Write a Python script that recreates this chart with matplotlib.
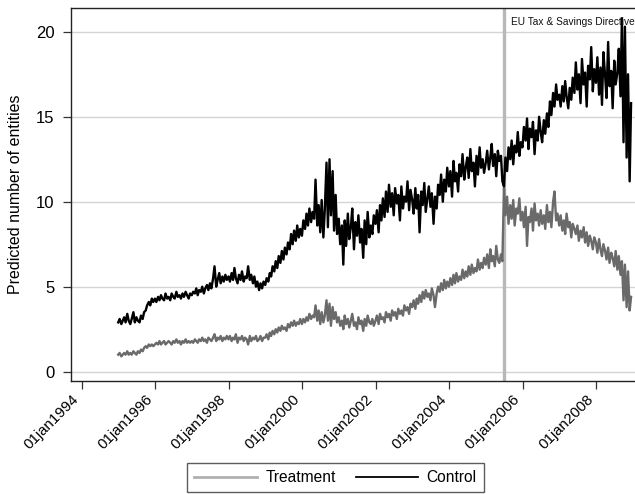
import numpy as np
import pandas as pd
import matplotlib
matplotlib.use("Agg")
import matplotlib.pyplot as plt
import matplotlib.dates as mdates
from matplotlib.lines import Line2D

plt.rcParams['font.family'] = ['Liberation Sans', 'DejaVu Sans']

# semi-monthly observations, Jan 1995 - Dec 2008 (24 per year)
control = [
    # 1995
    2.9, 3.1, 2.8, 3.0, 3.2, 2.9, 3.4, 3.0, 2.8, 3.1, 3.5, 2.9, 3.2, 3.0, 2.9, 3.3, 3.1, 3.5, 3.6, 3.9, 4.1, 3.9, 4.3, 4.1,
    # 1996
    4.3, 4.1, 4.4, 4.2, 4.5, 4.3, 4.2, 4.6, 4.3, 4.4, 4.2, 4.6, 4.4, 4.3, 4.7, 4.4, 4.5, 4.3, 4.6, 4.4, 4.7, 4.5, 4.3, 4.6,
    # 1997
    4.5, 4.7, 4.6, 4.9, 4.5, 4.8, 4.7, 5.0, 4.6, 4.9, 5.1, 4.8, 5.2, 4.9, 5.5, 6.2, 5.0, 5.4, 5.8, 5.2, 5.6, 5.3, 5.7, 5.4,
    # 1998
    5.6, 5.3, 5.8, 5.4, 6.1, 5.5, 5.2, 5.7, 5.4, 5.9, 5.3, 5.6, 5.5, 6.2, 5.4, 5.7, 5.2, 5.6, 5.0, 5.3, 4.8, 5.2, 4.9, 5.3,
    # 1999
    5.1, 5.5, 5.3, 5.8, 5.6, 6.2, 5.9, 6.5, 6.1, 6.8, 6.4, 7.1, 6.6, 7.3, 6.9, 7.6, 7.2, 8.1, 7.5, 8.3, 7.7, 8.6, 7.9, 8.4,
    # 2000
    8.0, 8.9, 8.4, 9.3, 8.6, 9.6, 8.8, 9.4, 9.0, 11.3, 8.6, 9.8, 8.2, 10.1, 7.9, 9.5, 12.3, 8.5, 12.5, 9.2, 11.8, 8.3, 10.4, 8.1,
    # 2001
    9.0, 7.5, 8.6, 6.3, 8.9, 7.4, 9.3, 7.8, 8.5, 9.6, 7.2, 8.8, 8.0, 9.2, 7.6, 8.4, 6.7, 8.9, 7.5, 9.4, 7.9, 8.6, 8.1, 9.2,
    # 2002
    8.7, 9.5, 8.2, 9.8, 8.9, 10.2, 9.1, 10.6, 9.4, 11.0, 9.7, 10.5, 9.2, 10.8, 9.9, 10.4, 8.9, 10.9, 9.6, 10.3, 10.0, 11.2, 9.5, 10.7,
    # 2003
    10.1, 9.3, 10.8, 9.6, 10.4, 8.2, 10.6, 9.8, 11.1, 9.4, 10.2, 10.9, 9.7, 10.5, 8.7, 10.3, 9.6, 11.0, 10.4, 11.6, 10.0, 11.3, 10.6, 12.0,
    # 2004
    10.9, 11.8, 10.3, 12.4, 11.2, 11.7, 10.6, 12.2, 11.5, 12.8, 11.3, 12.0, 12.6, 11.4, 13.1, 11.8, 12.3, 10.9, 12.7, 11.6, 13.2, 12.0, 12.5, 11.7,
    # 2005
    12.3, 13.0, 11.9, 12.6, 13.4, 12.1, 12.8, 11.5, 13.0, 12.4, 12.7, 11.2, 10.9, 12.6, 11.8, 13.2, 12.5, 13.6, 12.2, 13.3, 12.9, 14.1, 12.7, 13.5,
    # 2006
    13.2, 14.4, 13.6, 14.9, 13.1, 14.3, 13.8, 14.7, 12.8, 14.2, 13.6, 15.0, 14.1, 13.5, 14.8, 14.0, 15.2, 14.4, 15.9, 15.1, 16.4, 15.6, 16.9, 16.0,
    # 2007
    16.3, 15.6, 16.8, 15.9, 17.1, 16.2, 15.5, 16.7, 16.0, 17.3, 16.4, 18.2, 16.6, 17.5, 15.8, 18.4, 16.9, 17.6, 15.6, 18.0, 17.2, 19.1, 16.5, 17.8,
    # 2008
    17.0, 18.5, 16.3, 17.9, 15.7, 18.8, 17.4, 16.1, 19.4, 16.8, 17.7, 15.5, 18.3, 16.9, 17.6, 19.0, 16.2, 20.8, 13.5, 20.3, 12.6, 17.5, 11.2, 15.8,
]

treatment = [
    # 1995
    1.0, 1.1, 0.9, 1.0, 1.1, 1.0, 1.2, 1.0, 1.1, 1.0, 1.2, 1.1, 1.0, 1.2, 1.1, 1.3, 1.2, 1.4, 1.5, 1.4, 1.6, 1.5, 1.6, 1.5,
    # 1996
    1.6, 1.7, 1.6, 1.8, 1.6, 1.7, 1.8, 1.6, 1.7, 1.8, 1.7, 1.6, 1.8, 1.7, 1.9, 1.7, 1.8, 1.6, 1.8, 1.7, 1.9, 1.7, 1.8, 1.7,
    # 1997
    1.8, 1.7, 1.9, 1.8, 1.7, 1.9, 1.8, 2.0, 1.8, 1.9, 1.7, 2.0, 1.9, 1.8, 2.0, 2.2, 1.8, 2.0, 1.9, 2.1, 1.8, 2.0, 1.9, 2.1,
    # 1998
    1.9, 2.1, 1.8, 2.0, 1.9, 2.2, 1.7, 2.0, 1.9, 2.1, 1.8, 2.0, 1.9, 1.6, 2.1, 1.8, 2.0, 1.9, 2.1, 1.8, 1.9, 2.1, 1.8, 2.0,
    # 1999
    2.0, 2.2, 1.9, 2.3, 2.1, 2.4, 2.2, 2.5, 2.3, 2.6, 2.4, 2.7, 2.5, 2.6, 2.4, 2.8, 2.6, 2.9, 2.7, 3.0, 2.7, 2.9, 2.8, 3.1,
    # 2000
    2.8, 3.1, 2.9, 3.2, 3.0, 3.4, 3.1, 3.3, 3.2, 3.9, 3.0, 3.6, 2.8, 3.5, 2.9, 3.3, 4.2, 3.0, 4.0, 2.7, 3.8, 3.1, 3.5, 2.9,
    # 2001
    3.2, 2.7, 3.0, 2.5, 3.3, 2.8, 3.1, 2.6, 3.0, 3.4, 2.7, 2.9, 2.5, 3.2, 2.8, 3.0, 2.4, 3.1, 2.7, 3.3, 2.9, 2.8, 3.1, 2.7,
    # 2002
    3.0, 3.3, 2.8, 3.4, 3.1, 3.2, 2.9, 3.5, 3.2, 3.4, 3.0, 3.6, 3.3, 3.5, 3.1, 3.7, 3.4, 3.6, 3.3, 3.9, 3.6, 3.8, 3.4, 4.0,
    # 2003
    3.8, 4.2, 3.7, 4.3, 4.0, 4.5, 4.1, 4.7, 4.3, 4.8, 4.4, 4.6, 4.2, 4.9, 4.5, 3.8, 4.6, 5.0, 4.7, 5.2, 4.8, 5.4, 4.9, 5.3,
    # 2004
    5.0, 5.5, 5.1, 5.7, 5.2, 5.8, 5.3, 5.6, 5.4, 6.0, 5.5, 5.9, 5.6, 6.2, 5.7, 6.3, 5.8, 6.1, 5.9, 6.6, 6.0, 6.4, 6.1, 6.7,
    # 2005
    6.3, 6.9, 6.1, 7.2, 6.5, 6.8, 6.2, 7.4, 6.6, 6.4, 6.9, 6.5, 10.8, 9.2, 10.3, 8.7, 9.8, 9.0, 10.1, 8.6, 9.6, 9.3, 10.2, 8.9,
    # 2006
    9.4, 8.5, 9.7, 7.4, 9.1, 8.8, 9.6, 8.3, 9.9, 8.9, 9.3, 8.6, 9.5, 8.7, 9.2, 8.4, 9.8, 8.8, 9.4, 8.5, 10.0, 10.6, 8.9, 9.3,
    # 2007
    8.6, 9.2, 8.3, 8.9, 8.1, 9.3, 8.5, 8.8, 7.9, 8.7, 8.4, 8.1, 8.6, 7.7, 8.3, 7.9, 8.5, 7.6, 8.2, 7.4, 8.0, 7.7, 7.2, 7.9,
    # 2008
    7.6, 7.0, 7.8, 7.2, 6.8, 7.5, 7.1, 6.6, 7.3, 6.4, 7.0, 6.7, 6.2, 7.1, 6.0, 6.8, 5.7, 6.5, 4.2, 6.3, 3.8, 5.9, 3.6, 4.4,
]

tick_dates = ["1994-01-01", "1996-01-01", "1998-01-01", "2000-01-01",
              "2002-01-01", "2004-01-01", "2006-01-01", "2008-01-01"]
tick_labels = ["01jan1994", "01jan1996", "01jan1998", "01jan2000",
               "01jan2002", "01jan2004", "01jan2006", "01jan2008"]
y_ticks = [0, 5, 10, 15, 20]
event_date = "2005-07-01"
event_label = "EU Tax & Savings Directive"

dates_c = pd.date_range("1995-01-01", periods=len(control), freq="SMS")
dates_t = pd.date_range("1995-01-01", periods=len(treatment), freq="SMS")

fig = plt.figure(figsize=(6.35, 4.94), dpi=100)
W, H = 635, 494
ax = fig.add_axes([71 / W, 1 - 381 / H, (652 - 71) / W, (381 - 8) / H])

# x scale: 36.75 px per year, 01jan1994 at px 81.5
base = mdates.date2num(pd.Timestamp("1994-01-01"))
px_per_day = 36.75 / 365.25
ax.set_xlim(base - (81.5 - 71) / px_per_day, base + (652 - 81.5) / px_per_day)
ax.set_ylim(-0.55, 21.4)

for y in y_ticks:
    ax.axhline(y, color="#d4d4d4", lw=1.0, zorder=0)

ax.axvline(pd.Timestamp(event_date), color="#b8b8b8", lw=2.4, zorder=1)

ax.plot(dates_t, treatment, color="#6a6a6a", lw=1.7, zorder=2)
ax.plot(dates_c, control, color="black", lw=1.7, zorder=3)

ax.text(pd.Timestamp("2005-09-10"), 20.55, event_label, fontsize=7.3,
        va="center", ha="left", color="#111111", clip_on=False)

ax.set_yticks(y_ticks)
ax.set_yticklabels([str(v) for v in y_ticks], fontsize=12)
ax.set_xticks([pd.Timestamp(d) for d in tick_dates])
ax.set_xticklabels(tick_labels, rotation=45, ha="right", fontsize=10.8)
ax.tick_params(axis="both", direction="out", length=6, width=0.9, color="#333333")
ax.tick_params(axis="y", pad=6)
ax.tick_params(axis="x", pad=2)
ax.set_ylabel("Predicted number of entities", fontsize=11.5, labelpad=9)

for s in ["left", "bottom", "top"]:
    ax.spines[s].set_color("#222222")
    ax.spines[s].set_linewidth(1.0)
ax.spines["right"].set_visible(False)

handles = [Line2D([], [], color="#b0b0b0", lw=2.0),
           Line2D([], [], color="black", lw=1.3)]
leg = fig.legend(handles, ["Treatment", "Control"], ncol=2,
                 loc="upper center", bbox_to_anchor=(335.5 / W, 1 - 463 / H),
                 fontsize=11.2, frameon=True, fancybox=False, edgecolor="#333333",
                 handlelength=4.0, handletextpad=0.55, columnspacing=1.3,
                 borderpad=0.45, borderaxespad=0)
leg.get_frame().set_linewidth(1.0)

fig.savefig("out.png", dpi=100)
